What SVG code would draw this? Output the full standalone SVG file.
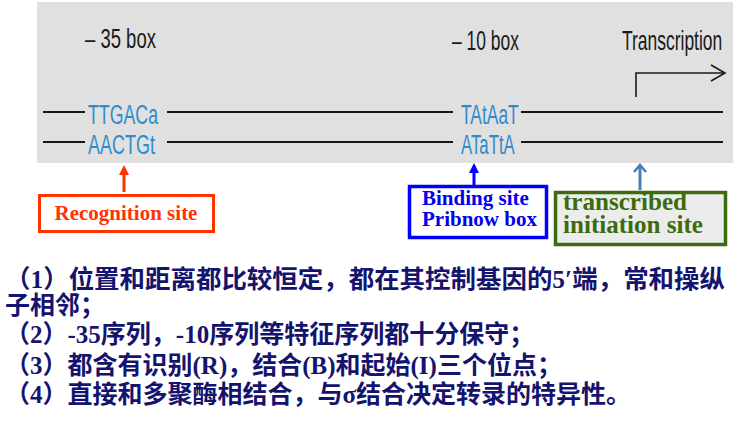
<svg xmlns="http://www.w3.org/2000/svg" width="746" height="423" viewBox="0 0 746 423">
<defs>
<style>
.lbl{font-family:"Liberation Sans","DejaVu Sans",sans-serif;fill:#1a1a1a;font-size:27px}
.seq{font-family:"Liberation Sans","DejaVu Sans",sans-serif;fill:#2f8ccc;font-size:28px}
.dna{stroke:#151515;stroke-width:2;fill:none}
.bx{font-family:"Liberation Serif","Times New Roman",serif;font-weight:bold}
.cn{font-family:"Liberation Serif","Noto Sans CJK SC",serif;font-weight:bold;font-size:25px;fill:#14146e}
</style>
</defs>
<rect x="37" y="2" width="696" height="161" fill="#e0e0e0"/>
<g id="dna">
<line class="dna" x1="43" y1="112" x2="85" y2="112"/>
<line class="dna" x1="167" y1="112" x2="453" y2="112"/>
<line class="dna" x1="521" y1="112" x2="723" y2="112"/>
<line class="dna" x1="43" y1="142" x2="85" y2="142"/>
<line class="dna" x1="167" y1="142" x2="453" y2="142"/>
<line class="dna" x1="521" y1="142" x2="723" y2="142"/>
</g>
<g id="box35">
<text class="lbl" transform="translate(85,48) scale(0.685,1)">– 35 box</text>
<text class="seq" transform="translate(88,124) scale(0.634,1)">TTGACa</text>
<text class="seq" transform="translate(88,154) scale(0.643,1)">AACTGt</text>
</g>
<g id="box10">
<text class="lbl" transform="translate(452,50) scale(0.647,1)">– 10 box</text>
<text class="seq" transform="translate(461,124) scale(0.622,1)">TAtAaT</text>
<text class="seq" transform="translate(461,154) scale(0.60,1)">ATaTtA</text>
</g>
<g id="transcription">
<text class="lbl" transform="translate(622,50) scale(0.647,1)">Transcription</text>
<polyline points="636,97 636,73 724,73" fill="none" stroke="#1a1a1a" stroke-width="1.6"/>
<polyline points="711,65 725,73 711,81" fill="none" stroke="#1a1a1a" stroke-width="1.6"/>
</g>
<g id="connectors">
<line x1="124" y1="192" x2="124" y2="168" stroke="#ff3300" stroke-width="3"/>
<path d="M119,175 L124,165 L129,175 Z" fill="#ff3300"/>
<line x1="474" y1="185" x2="474" y2="166" stroke="#0000ff" stroke-width="3"/>
<path d="M469,173 L474,163 L479,173 Z" fill="#0000ff"/>
<line x1="640" y1="190" x2="640" y2="165" stroke="#4a7ebb" stroke-width="3"/>
<polyline points="634,172 640,165 646,172" fill="none" stroke="#4a7ebb" stroke-width="2.5"/>
</g>
<g id="recognition">
<rect x="39.5" y="195.5" width="174" height="36" fill="#ffffff" stroke="#ff3300" stroke-width="3"/>
<text class="bx" x="126" y="220" font-size="21" fill="#ff3300" text-anchor="middle">Recognition site</text>
</g>
<g id="binding">
<rect x="409.5" y="186.5" width="137" height="51" fill="#ffffff" stroke="#0000ff" stroke-width="3.5"/>
<text class="bx" x="422" y="205" font-size="21" fill="#0000ee">Binding site</text>
<text class="bx" x="422" y="226" font-size="21" fill="#0000ee">Pribnow box</text>
</g>
<g id="initiation">
<rect x="555.5" y="192.5" width="170" height="52" fill="#ececec" stroke="#3d6b10" stroke-width="3.5"/>
<text class="bx" x="563" y="210" font-size="25" fill="#3d6b0c" textLength="124" lengthAdjust="spacingAndGlyphs">transcribed</text>
<text class="bx" x="563" y="233" font-size="25" fill="#3d6b0c" textLength="140" lengthAdjust="spacingAndGlyphs">initiation site</text>
</g>
<g id="notes">
<text class="cn" x="5" y="288" textLength="720" lengthAdjust="spacingAndGlyphs">（1）位置和距离都比较恒定，都在其控制基因的5′端，常和操纵</text>
<text class="cn" x="5" y="314">子相邻；</text>
<text class="cn" x="5" y="343">（2）-35序列，-10序列等特征序列都十分保守；</text>
<text class="cn" x="5" y="374">（3）都含有识别(R)，结合(B)和起始(I)三个位点；</text>
<text class="cn" x="5" y="403">（4）直接和多聚酶相结合，与σ结合决定转录的特异性。</text>
</g>
</svg>
